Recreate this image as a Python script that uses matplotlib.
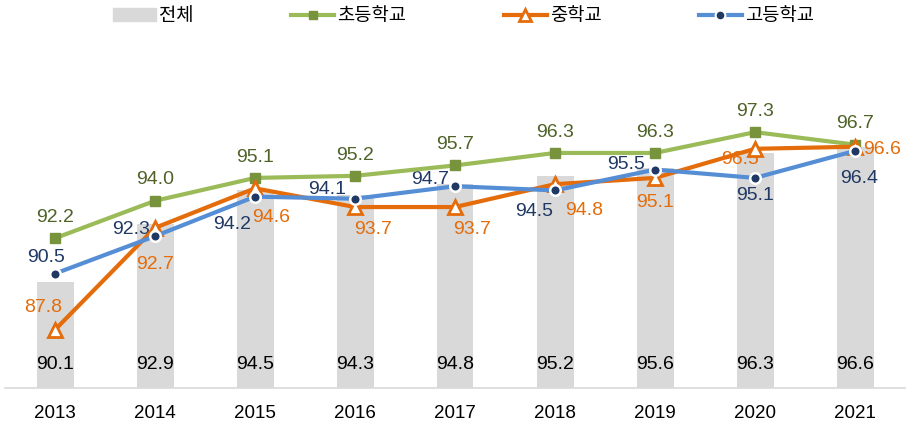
import numpy as np
import matplotlib.pyplot as plt
from matplotlib.lines import Line2D
from matplotlib.patches import Patch

plt.rcParams['font.family'] = ['Liberation Sans', 'Noto Sans CJK KR']

years = ['2013', '2014', '2015', '2016', '2017', '2018', '2019', '2020', '2021']
total = [90.1, 92.9, 94.5, 94.3, 94.8, 95.2, 95.6, 96.3, 96.6]
elem = [92.2, 94.0, 95.1, 95.2, 95.7, 96.3, 96.3, 97.3, 96.7]
middle = [87.8, 92.7, 94.6, 93.7, 93.7, 94.8, 95.1, 96.5, 96.6]
high = [90.5, 92.3, 94.2, 94.1, 94.7, 94.5, 95.5, 95.1, 96.4]

# label offsets in points (dx, dy)
mid_off = [(-8.5, 16), (0, -26.5), (11.5, -21), (13, -16), (12, -16), (21, -19), (0, -18), (-11, -8), (19.5, -2)]
high_off = [(-6.5, 11.5), (-17, 5), (-16.5, -20), (-20, 6.5), (-18, 4.5), (-15, -15), (-21, 3.5), (0, -13), (3, -20)]

LBL = 14
x = np.arange(len(years))

fig = plt.figure(figsize=(9.09, 4.29), dpi=100)
ax = fig.add_axes([5/909, 41/429, 900/909, 312/429])

ax.bar(x, [t - 85 for t in total], bottom=85, width=0.37, color='#D9D9D9', zorder=1)
for xi, t in zip(x, total):
    ax.text(xi, 86.13, f'{t:.1f}', ha='center', va='center', fontsize=14, color='black', zorder=6)

ax.plot(x, elem, color='#9BBB59', lw=3, marker='s', ms=6.7, mfc='#77933C', mec='#77933C', zorder=3)
ax.plot(x, middle, color='#E46C0A', lw=3, marker='^', ms=10.5, mfc='white', mec='#E46C0A', mew=2, zorder=4)
ax.plot(x, high, color='#558ED5', lw=3, marker='o', ms=7.6, mfc='#1F3864', mec='white', mew=1.8, zorder=5)

for xi, v in zip(x, elem):
    ax.annotate(f'{v:.1f}', (xi, v), xytext=(0, 15), textcoords='offset points',
                ha='center', va='center', fontsize=LBL, color='#4F6228', zorder=2)
for xi, v, o in zip(x, middle, mid_off):
    ax.annotate(f'{v:.1f}', (xi, v), xytext=o, textcoords='offset points',
                ha='center', va='center', fontsize=LBL, color='#E46C0A', zorder=2)
for xi, v, o in zip(x, high, high_off):
    ax.annotate(f'{v:.1f}', (xi, v), xytext=o, textcoords='offset points',
                ha='center', va='center', fontsize=LBL, color='#1F3864', zorder=2)

ax.set_xlim(-0.5, 8.5)
ax.set_ylim(85, 100)
ax.set_xticks(x)
ax.set_xticklabels(years, fontsize=13.5)
ax.tick_params(axis='x', length=0, pad=12)
ax.set_yticks([])
for s in ['top', 'left', 'right']:
    ax.spines[s].set_visible(False)
ax.spines['bottom'].set_color('#D9D9D9')
ax.spines['bottom'].set_linewidth(1.2)

handles = [
    Patch(color='#D9D9D9'),
    Line2D([], [], color='#9BBB59', lw=3, marker='s', ms=6, mfc='#77933C', mec='#77933C'),
    Line2D([], [], color='#E46C0A', lw=3, marker='^', ms=9, mfc='white', mec='#E46C0A', mew=2),
    Line2D([], [], color='#558ED5', lw=3, marker='o', ms=7, mfc='#1F3864', mec='white', mew=1.5),
]
fig.legend(handles, ['전체', '초등학교', '중학교', '고등학교'], loc='upper center',
           bbox_to_anchor=(0.51, 1.02), ncol=4, frameon=False, fontsize=13.5,
           columnspacing=5.2, handlelength=2.3, handletextpad=0.15)

fig.savefig('out.png', dpi=100)
